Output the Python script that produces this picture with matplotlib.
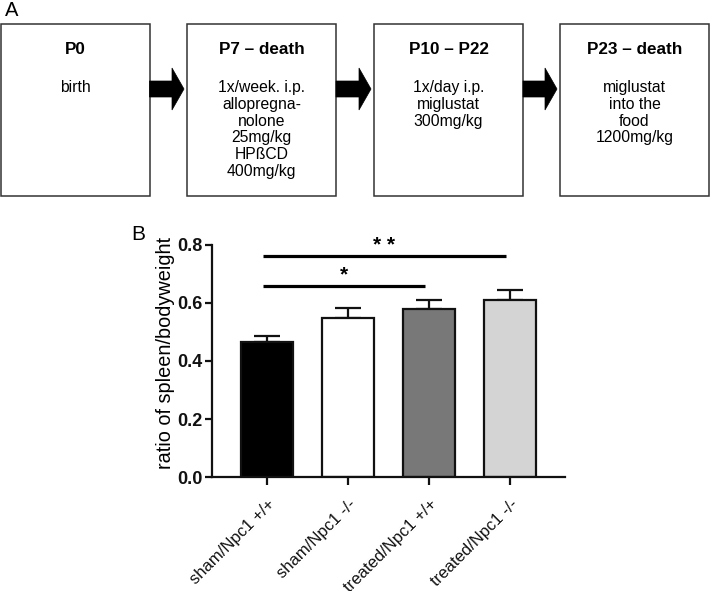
import matplotlib
matplotlib.use("Agg")
import matplotlib.pyplot as plt
from matplotlib.patches import Rectangle, Polygon
import numpy as np

plt.rcParams['font.family'] = ['Liberation Sans', 'DejaVu Sans']

# ---------------- data ----------------
groups = ["sham/Npc1 +/+", "sham/Npc1 -/-", "treated/Npc1 +/+", "treated/Npc1 -/-"]
means = [0.466, 0.548, 0.579, 0.610]
sems = [0.020, 0.034, 0.031, 0.035]
bar_colors = ["#000000", "#ffffff", "#787878", "#d4d4d4"]
yticks = [0.0, 0.2, 0.4, 0.6, 0.8]

sig_pairs = [(0, 2), (0, 3)]
sig_levels = [0.659, 0.762]
sig_labels = ["*", "* *"]

box_titles = ["P0", "P7 \u2013 death", "P10 \u2013 P22", "P23 \u2013 death"]
box_bodies = [
    "birth",
    "1x/week. i.p.\nallopregna-\nnolone\n25mg/kg\nHP\u00dfCD\n400mg/kg",
    "1x/day i.p.\nmiglustat\n300mg/kg",
    "miglustat\ninto the\nfood\n1200mg/kg",
]

# ---------------- figure ----------------
W, H = 710, 591
fig = plt.figure(figsize=(W / 100, H / 100), dpi=100)

# Panel A (pixel coordinates)
axA = fig.add_axes([0, 0, 1, 1])
axA.set_xlim(0, W)
axA.set_ylim(H, 0)
axA.axis('off')

box_left = [0.5, 187, 374, 560]
box_w = 149
box_top, box_bot = 24, 196
for i, (t, b) in enumerate(zip(box_titles, box_bodies)):
    x0 = box_left[i]
    axA.add_patch(Rectangle((x0, box_top), box_w, box_bot - box_top,
                            facecolor='white', edgecolor='#333333', lw=1.1))
    cx = x0 + box_w / 2
    axA.text(cx, 50, t, ha='center', va='center', fontsize=12.3, fontweight='bold')
    axA.text(cx, 80, b, ha='center', va='top', fontsize=11.3, linespacing=1.15)

# arrows between boxes
for i in range(3):
    xs = box_left[i] + box_w
    xt = box_left[i + 1] - 3
    xh = xt - 12
    cy = 89
    pts = [(xs, cy - 8), (xh, cy - 8), (xh, cy - 21), (xt, cy),
           (xh, cy + 21), (xh, cy + 8), (xs, cy + 8)]
    axA.add_patch(Polygon(pts, closed=True, facecolor='black', edgecolor='black', lw=0.5))

fig.text(5 / W, 1 - 10 / H, "A", fontsize=14.5, ha='left', va='center')
fig.text(131 / W, 1 - 235 / H, "B", fontsize=15, ha='left', va='center')

# Panel B
left, right = 212 / W, 565 / W
bottom, top = 1 - 477 / H, 1 - 245 / H
ax = fig.add_axes([left, bottom, right - left, top - bottom])
x = np.arange(len(groups))
ax.bar(x, means, width=0.65, color=bar_colors, edgecolor='#111111', linewidth=1.6, zorder=2)
ax.errorbar(x, means, yerr=[np.zeros(len(means)), sems], fmt='none', ecolor='#111111',
            elinewidth=1.6, capsize=9.5, capthick=1.6, zorder=1)
ax.set_xlim(-0.68, 3.68)
ax.set_ylim(0, 0.8)
ax.set_yticks(yticks)
ax.set_yticklabels([f"{v:.1f}" for v in yticks], fontweight='bold', fontsize=13)
ax.set_xticks(x)
ax.set_xticklabels(groups, rotation=45, ha='right', rotation_mode='anchor', fontsize=12)
ax.set_ylabel("ratio of spleen/bodyweight", fontsize=14.3)
ax.yaxis.set_label_coords(-0.105, 0.534)
for s in ['top', 'right']:
    ax.spines[s].set_visible(False)
for s in ['left', 'bottom']:
    ax.spines[s].set_linewidth(1.6)
    ax.spines[s].set_color('#111111')
ax.tick_params(axis='y', length=5, width=1.6, pad=2, colors='#111111')
ax.tick_params(axis='x', length=6, width=1.6, pad=8, colors='#111111')

for (a, b), lev, lab in zip(sig_pairs, sig_levels, sig_labels):
    x0 = a - 0.05
    x1 = b - 0.05
    ax.plot([x0, x1], [lev, lev], color='black', lw=2.3, clip_on=False, solid_capstyle='butt')
    ax.text((x0 + x1) / 2, lev + 0.018, lab, ha='center', va='baseline',
            fontsize=15, fontweight='bold', clip_on=False)

fig.savefig("out.png", dpi=100)
